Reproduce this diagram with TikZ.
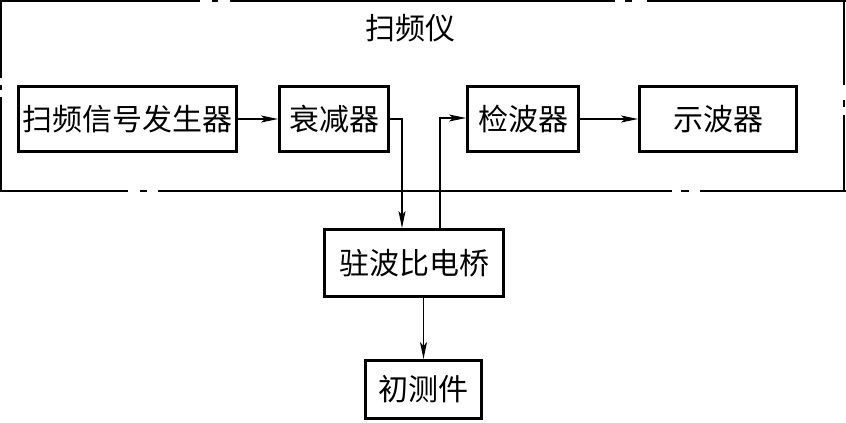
\documentclass[tikz,border=0pt]{standalone}
\usepackage{fontspec}
\newfontfamily\cjk{Noto Sans CJK SC}
\usetikzlibrary{arrows.meta}
\begin{document}
\begin{tikzpicture}[x=1pt,y=-1pt,
  blk/.style={draw, line width=3pt, inner sep=0pt, font=\cjk\fontsize{30}{30}\selectfont},
  frame/.style={line width=2pt},
  conn/.style={line width=1.5pt},
  arr/.style={conn, -{Stealth[length=17pt,width=7pt,inset=4pt]}},
  lbl/.style={font=\cjk\fontsize{30}{30}\selectfont, inner sep=0pt}]
\useasboundingbox (0,0) rectangle (846,423);
% outer dash-dot frame
\draw[frame] (0,1) -- (200,1) (212,1) -- (218,1) (230,1) -- (615,1) (625,1) -- (632,1) (647,1) -- (846,1);
\draw[frame] (0,191) -- (128,191) (140,191) -- (147,191) (158,191) -- (672,191) (681,191) -- (689,191) (700,191) -- (846,191);
\draw[frame] (1,0) -- (1,78) (1,85) -- (1,90) (1,97) -- (1,192);
\draw[frame] (844,0) -- (844,85) (844,100) -- (844,107) (844,115) -- (844,192);
\node[lbl] (title) at (410,28) {扫频仪};
% blocks
\node[blk, minimum width=218pt, minimum height=65pt] (gen) at (127.5,119) {扫频信号发生器};
\node[blk, minimum width=109pt, minimum height=65pt] (att) at (334,119) {衰减器};
\node[blk, minimum width=111pt, minimum height=65pt] (det) at (523,119) {检波器};
\node[blk, minimum width=157pt, minimum height=65pt] (osc) at (718,119) {示波器};
\node[blk, minimum width=179pt, minimum height=67pt] (brg) at (414,263) {驻波比电桥};
\node[blk, minimum width=116pt, minimum height=58pt] (dut) at (423.5,389.5) {初测件};
% connectors
\draw[arr] (gen.east) -- (att.west);
\coordinate (a1) at (402,119);
\draw[arr] (att.east) -- (a1) -- (a1 |- brg.north);
\coordinate (b1) at (440,118);
\draw[arr] (b1 |- brg.north) -- (b1) -- (b1 -| det.west);
\draw[arr] (det.east) -- (osc.west);
\draw[arr] (brg.south -| dut.north) -- (dut.north);
\end{tikzpicture}
\end{document}
